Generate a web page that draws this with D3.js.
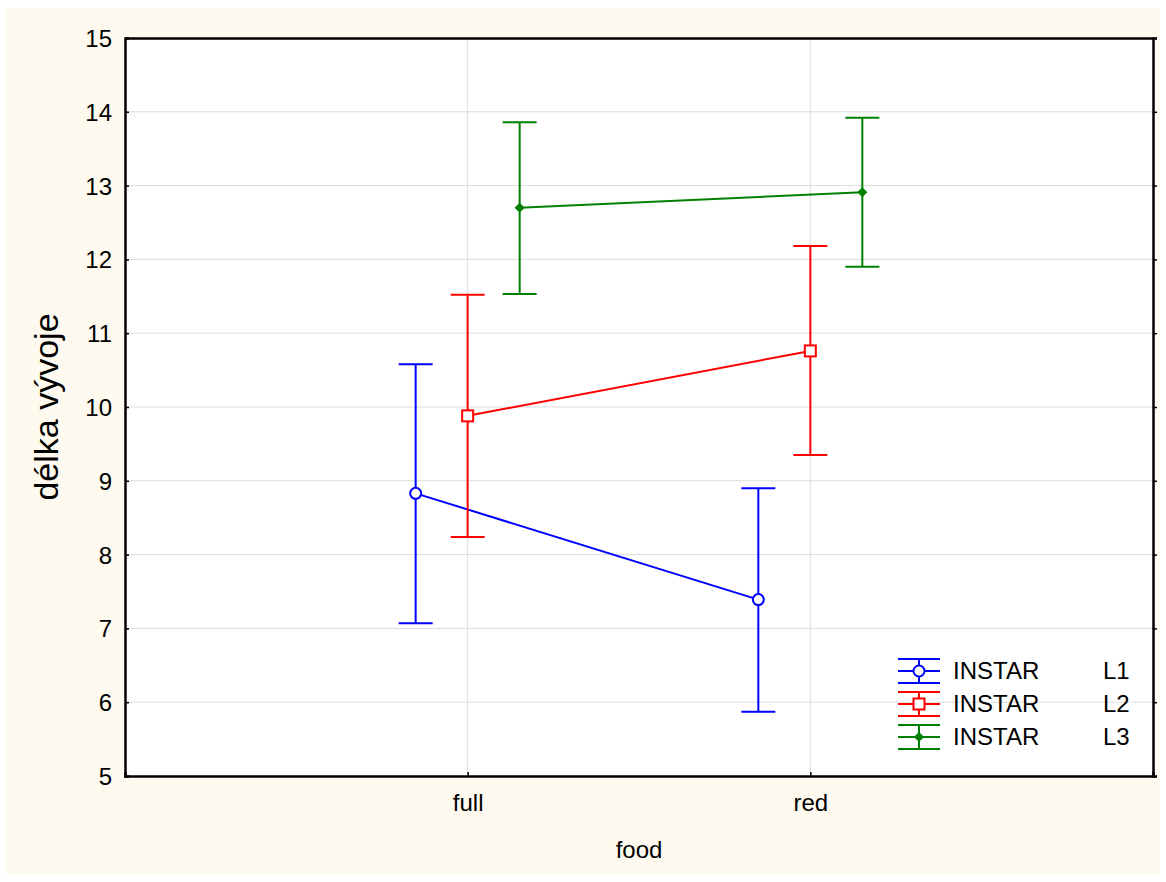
<!DOCTYPE html>
<meta charset="utf-8">
<style>
body { margin: 0; background: #fff; }
text { font-family: "Liberation Sans", Arial, sans-serif; fill: #000; }
.grid line { stroke: #dcdcdc; stroke-width: 1; }
</style>
<svg id="chart" width="1166" height="882"></svg>
<script src="https://cdn.jsdelivr.net/npm/d3@7"></script>
<script>
// data
var foods = ["full", "red"];
var instars = ["L1", "L2", "L3"];
var colors = ["#0000ff", "#ff0000", "#008000"];
var means = [[8.83, 7.39], [9.88, 10.76], [12.70, 12.91]];
var upper = [[10.58, 8.90], [11.52, 12.18], [13.86, 13.92]];
var lower = [[7.07, 5.87], [8.24, 9.35], [11.53, 11.90]];
var yTicks = [5, 6, 7, 8, 9, 10, 11, 12, 13, 14, 15];

var svg = d3.select("#chart");
var margin = {left: 125, top: 38, right: 1153, bottom: 776};

svg.append("rect")
  .attr("x", 6).attr("y", 8).attr("width", 1154).attr("height", 866)
  .attr("fill", "#fffaf0");
svg.append("rect")
  .attr("x", margin.left).attr("y", margin.top)
  .attr("width", margin.right - margin.left).attr("height", margin.bottom - margin.top)
  .attr("fill", "#fff");

var x = d3.scalePoint().domain(foods).range([margin.left, margin.right]).padding(1);
var y = d3.scaleLinear().domain([5, 15]).range([margin.bottom, margin.top]);
var offset = d3.scalePoint().domain(instars).range([-52, 52]);

// grid
var grid = svg.append("g").attr("class", "grid");
grid.selectAll(".hy").data(yTicks.slice(1, -1)).enter().append("line")
  .attr("x1", margin.left).attr("x2", margin.right)
  .attr("y1", function(d) { return y(d); }).attr("y2", function(d) { return y(d); });
grid.selectAll(".vx").data(foods).enter().append("line")
  .attr("y1", margin.top).attr("y2", margin.bottom)
  .attr("x1", function(d) { return x(d); }).attr("x2", function(d) { return x(d); });

// axes
var yAxis = d3.axisLeft(y).tickValues(yTicks).tickSize(-4).tickPadding(13);
var gy = svg.append("g").attr("transform", "translate(" + margin.left + ",0)").call(yAxis);
var yAxisR = d3.axisRight(y).tickValues(yTicks).tickSize(4).tickFormat("");
var gyr = svg.append("g").attr("transform", "translate(" + margin.right + ",0)").call(yAxisR);
var xAxis = d3.axisBottom(x).tickSize(-4).tickPadding(18);
var gx = svg.append("g").attr("transform", "translate(0," + margin.bottom + ")").call(xAxis);
var xAxisT = d3.axisTop(x).tickSize(0).tickFormat("");
var gxt = svg.append("g").attr("transform", "translate(0," + margin.top + ")").call(xAxisT);

[gy, gyr, gx, gxt].forEach(function(g) {
  g.select(".domain").attr("stroke", "#000").attr("stroke-width", 2.5);
  g.selectAll(".tick line").attr("stroke", "#000").attr("stroke-width", 1.5);
  g.selectAll(".tick text").style("font-size", "24px").attr("fill", "#000")
    .style("font-family", "Liberation Sans, Arial, sans-serif");
});
gy.selectAll(".tick text").attr("dy", "0.35em");

// axis titles
svg.append("text")
  .attr("x", x.range()[0] + (margin.right - margin.left) / 2)
  .attr("y", 858).attr("text-anchor", "middle")
  .style("font-size", "24px").text("food");
svg.append("text")
  .attr("transform", "translate(58," + (margin.top + margin.bottom) / 2 + ") rotate(-90)")
  .attr("text-anchor", "middle")
  .style("font-size", "34px").text("délka vývoje");

var cap = 17;

function marker(g, i, cx, cy) {
  if (i === 0) {
    g.append("circle").attr("cx", cx).attr("cy", cy).attr("r", 5.5)
      .attr("fill", "#fff").attr("stroke", colors[i]).attr("stroke-width", 2);
  } else if (i === 1) {
    g.append("rect").attr("x", cx - 5.5).attr("y", cy - 5.5).attr("width", 11).attr("height", 11)
      .attr("fill", "#fff").attr("stroke", colors[i]).attr("stroke-width", 2);
  } else {
    g.append("path").attr("d", d3.symbol(d3.symbolDiamond2, 40)())
      .attr("transform", "translate(" + cx + "," + cy + ")")
      .attr("fill", colors[i]).attr("stroke", colors[i]).attr("stroke-width", 1.5);
  }
}

instars.forEach(function(inst, i) {
  var g = svg.append("g");
  var pts = foods.map(function(f, j) { return [x(f) + offset(inst), y(means[i][j])]; });
  g.append("path").attr("d", d3.line()(pts))
    .attr("fill", "none").attr("stroke", colors[i]).attr("stroke-width", 2);
  foods.forEach(function(f, j) {
    var cx = x(f) + offset(inst);
    g.append("line").attr("x1", cx).attr("x2", cx)
      .attr("y1", y(upper[i][j])).attr("y2", y(lower[i][j]))
      .attr("stroke", colors[i]).attr("stroke-width", 2);
    [upper[i][j], lower[i][j]].forEach(function(v) {
      g.append("line").attr("x1", cx - cap).attr("x2", cx + cap)
        .attr("y1", y(v)).attr("y2", y(v))
        .attr("stroke", colors[i]).attr("stroke-width", 2);
    });
    marker(g, i, pts[j][0], pts[j][1]);
  });
});

// legend
var legend = svg.append("g");
instars.forEach(function(inst, i) {
  var cy = 671 + i * 33, lx = 898, lw = 42;
  var g = legend.append("g");
  [-12, 0, 12].forEach(function(dy) {
    g.append("line").attr("x1", lx).attr("x2", lx + lw)
      .attr("y1", cy + dy).attr("y2", cy + dy)
      .attr("stroke", colors[i]).attr("stroke-width", 2);
  });
  g.append("line").attr("x1", lx + lw / 2).attr("x2", lx + lw / 2)
    .attr("y1", cy - 12).attr("y2", cy + 12)
    .attr("stroke", colors[i]).attr("stroke-width", 2);
  marker(g, i, lx + lw / 2, cy);
  g.append("text").attr("x", 953).attr("y", cy).attr("dy", "0.35em")
    .style("font-size", "24px").text("INSTAR");
  g.append("text").attr("x", 1103).attr("y", cy).attr("dy", "0.35em")
    .style("font-size", "24px").text(inst);
});
</script>
